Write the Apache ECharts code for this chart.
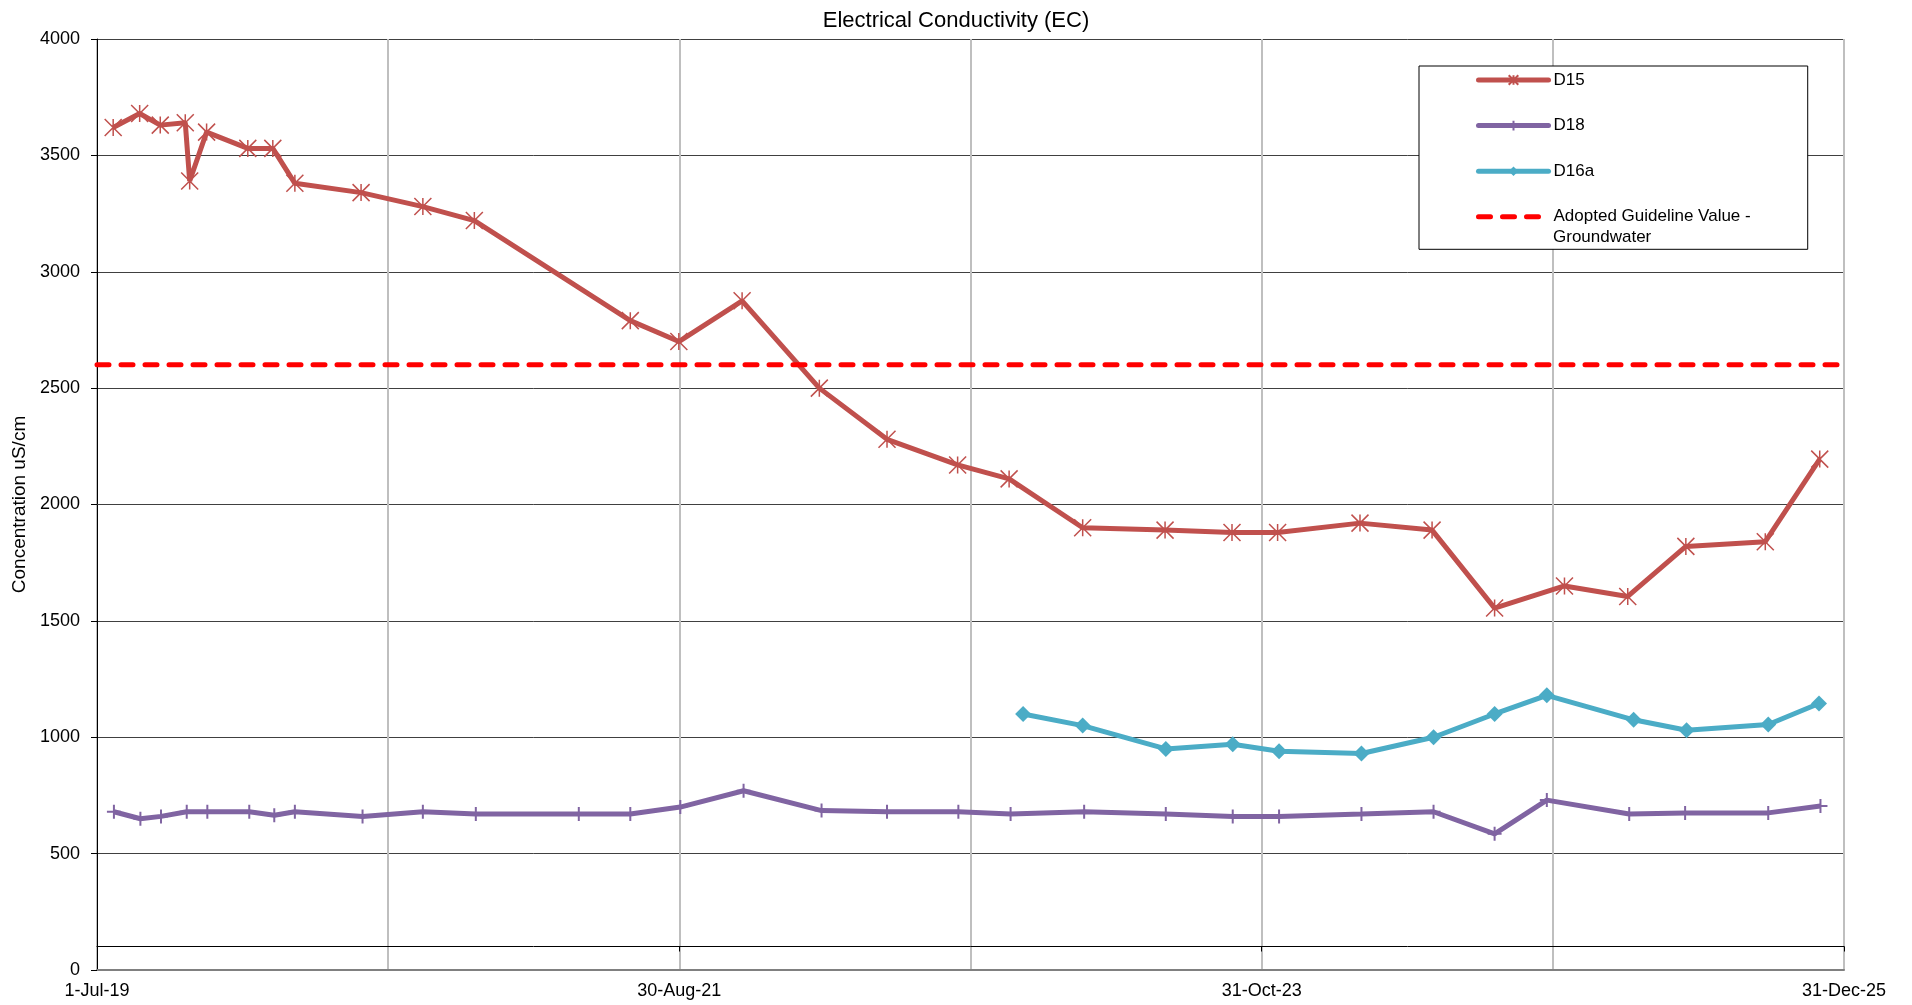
<!DOCTYPE html>
<html>
<head>
<meta charset="utf-8">
<script src="https://cdn.jsdelivr.net/npm/echarts@6/dist/echarts.min.js"></script>
<style>html,body{margin:0;padding:0;background:#fff}#c{width:1912px;height:1005px}</style>
</head>
<body>
<div id="c"></div>
<script>
// ---------- data ----------
const chartTitle = 'Electrical Conductivity (EC)';
const yAxisName = 'Concentration uS/cm';
const axisStart = '2019-07-01';
const axisEnd = '2025-12-31';
const xTickLabels = ['1-Jul-19', '30-Aug-21', '31-Oct-23', '31-Dec-25'];
const yMin = 0, yMax = 4000, yStep = 500;

const d15Dates = ['2019-07-23','2019-08-28','2019-09-25','2019-10-29','2019-11-04','2019-11-27','2020-01-22','2020-02-25','2020-03-26','2020-06-24','2020-09-16','2020-11-25','2021-06-25','2021-08-30','2021-11-24','2022-03-09','2022-06-09','2022-09-13','2022-11-22','2023-03-02','2023-06-22','2023-09-21','2023-11-22','2024-03-13','2024-06-19','2024-09-12','2024-12-16','2025-03-12','2025-05-30','2025-09-15','2025-11-28'];
const d15Values = [3620,3680,3630,3640,3390,3600,3530,3530,3380,3340,3280,3220,2790,2700,2875,2500,2280,2170,2110,1900,1890,1880,1880,1920,1890,1555,1650,1605,1820,1840,2195];

const d18Dates = ['2019-07-24','2019-08-29','2019-09-26','2019-10-31','2019-11-28','2020-01-24','2020-02-27','2020-03-26','2020-06-26','2020-09-16','2020-11-27','2021-04-16','2021-06-25','2021-09-01','2021-11-26','2022-03-12','2022-06-09','2022-09-14','2022-11-24','2023-03-04','2023-06-23','2023-09-22','2023-11-24','2024-03-15','2024-06-21','2024-09-12','2024-11-22','2025-03-14','2025-05-29','2025-09-19','2025-11-29'];
const d18Values = [680,650,660,680,680,680,665,680,660,680,670,670,670,700,770,685,680,680,670,680,670,660,660,670,680,585,730,670,675,675,705];

const d16aDates = ['2022-12-11','2023-03-02','2023-06-23','2023-09-22','2023-11-24','2024-03-15','2024-06-21','2024-09-12','2024-11-22','2025-03-20','2025-05-31','2025-09-19','2025-11-27'];
const d16aValues = [1100,1050,950,970,940,930,1000,1100,1180,1075,1030,1055,1145];

const guidelineName = 'Adopted Guideline Value - Groundwater';
const guidelineLines = ['Adopted Guideline Value -', 'Groundwater'];
const guidelineValue = 2600;

// ---------- helpers ----------
function toUTC(s){ const p = s.split('-').map(Number); return Date.UTC(p[0], p[1]-1, p[2]); }
const base = toUTC(axisStart);
function hoursFrom(s){ return (toUTC(s) - base) / 3600000; }
function pairs(dates, vals){ return dates.map((d,i)=>[hoursFrom(d), vals[i]]); }

const xMax = hoursFrom(axisEnd);      // hours span
const xStep = xMax / 6;               // gridline step
const FONT = '"Liberation Sans", Arial, sans-serif';

const chart = echarts.init(document.getElementById('c'), null, {renderer:'canvas'});
chart.setOption({
  animation: false,
  backgroundColor: '#ffffff',
  title: {
    text: chartTitle, left: 'center', top: 5,
    textStyle: {fontFamily: FONT, fontSize: 22, fontWeight: 'normal', color: '#000'}
  },
  grid: {left: 97, right: 68, top: 39, bottom: 35, containLabel: false},
  legend: {
    orient: 'vertical', left: 1419, top: 66,
    padding: [4.5, 57, 23, 57],
    itemWidth: 70, itemHeight: 12, itemGap: 26.6,
    borderColor: '#000', borderWidth: 1, backgroundColor: '#fff',
    lineStyle: {width: 5, cap: 'round'},
    textStyle: {fontFamily: FONT, fontSize: 17, color: '#000', lineHeight: 19},
    formatter: function(n){ return n === guidelineName ? guidelineLines[0] : n; },
    data: ['D15', 'D18', 'D16a', {name: guidelineName, itemStyle: {color: 'rgba(0,0,0,0)', borderWidth: 0}, lineStyle: {color: '#FF0000', width: 5}}]
  },
  graphic: [{
    type: 'text', left: 1553, top: 229, z: 100,
    style: {text: guidelineLines[1], font: '17px ' + FONT, fill: '#000'}
  }],
  xAxis: [{
    type: 'value', min: 0, max: xMax, interval: xStep, position: 'bottom',
    axisLine: {show: true, onZero: false, lineStyle: {color: '#808080', width: 2}},
    axisTick: {show: false},
    axisLabel: {
      fontFamily: FONT, fontSize: 18, color: '#000', margin: 12,
      showMinLabel: true, showMaxLabel: true,
      formatter: function(v){ const i = Math.round(v / xStep); return i % 2 === 0 ? (xTickLabels[i/2] || '') : ''; }
    },
    splitLine: {show: true, lineStyle: {color: '#BFBFBF', width: 2}}
  }, {
    type: 'value', min: 0, max: xMax, interval: xStep * 2, position: 'bottom', offset: -23.5,
    axisLine: {show: true, onZero: false, lineStyle: {color: '#000', width: 1}},
    axisTick: {show: true, length: 5, inside: false, lineStyle: {color: '#000'}},
    axisLabel: {show: false},
    splitLine: {show: false}
  }],
  yAxis: {
    type: 'value', min: yMin, max: yMax, interval: yStep,
    name: yAxisName, nameLocation: 'middle', nameGap: 59,
    nameTextStyle: {fontFamily: FONT, fontSize: 19, color: '#000'},
    axisLine: {show: true, lineStyle: {color: '#000', width: 1}},
    axisTick: {show: true, length: 6, lineStyle: {color: '#000'}},
    axisLabel: {fontFamily: FONT, fontSize: 18, color: '#000', margin: 17, formatter: function(v){ return String(v); }},
    splitLine: {show: true, lineStyle: {color: '#404040', width: 1}}
  },
  series: [{
    name: 'D15', type: 'line', data: pairs(d15Dates, d15Values),
    symbol: 'path://M0,0L10,10M10,0L0,10M5,0L5,10', symbolSize: 17, showAllSymbol: true,
    lineStyle: {color: '#C0504D', width: 5},
    itemStyle: {color: '#C0504D', borderColor: '#C0504D', borderWidth: 1.5}
  }, {
    name: 'D18', type: 'line', data: pairs(d18Dates, d18Values),
    symbol: 'path://M5,0L5,10M0,5L10,5', symbolSize: 14, showAllSymbol: true,
    lineStyle: {color: '#8064A2', width: 5},
    itemStyle: {color: '#8064A2', borderColor: '#8064A2', borderWidth: 2}
  }, {
    name: 'D16a', type: 'line', data: pairs(d16aDates, d16aValues),
    symbol: 'diamond', symbolSize: 16, showAllSymbol: true,
    lineStyle: {color: '#4BACC6', width: 5},
    itemStyle: {color: '#4BACC6'}
  }, {
    name: guidelineName, type: 'line', data: [[0, guidelineValue], [xMax, guidelineValue]],
    symbol: 'none',
    lineStyle: {color: '#FF0000', width: 5, type: [12, 12], cap: 'round'},
    itemStyle: {color: '#FF0000'}
  }]
});
</script>
</body>
</html>
